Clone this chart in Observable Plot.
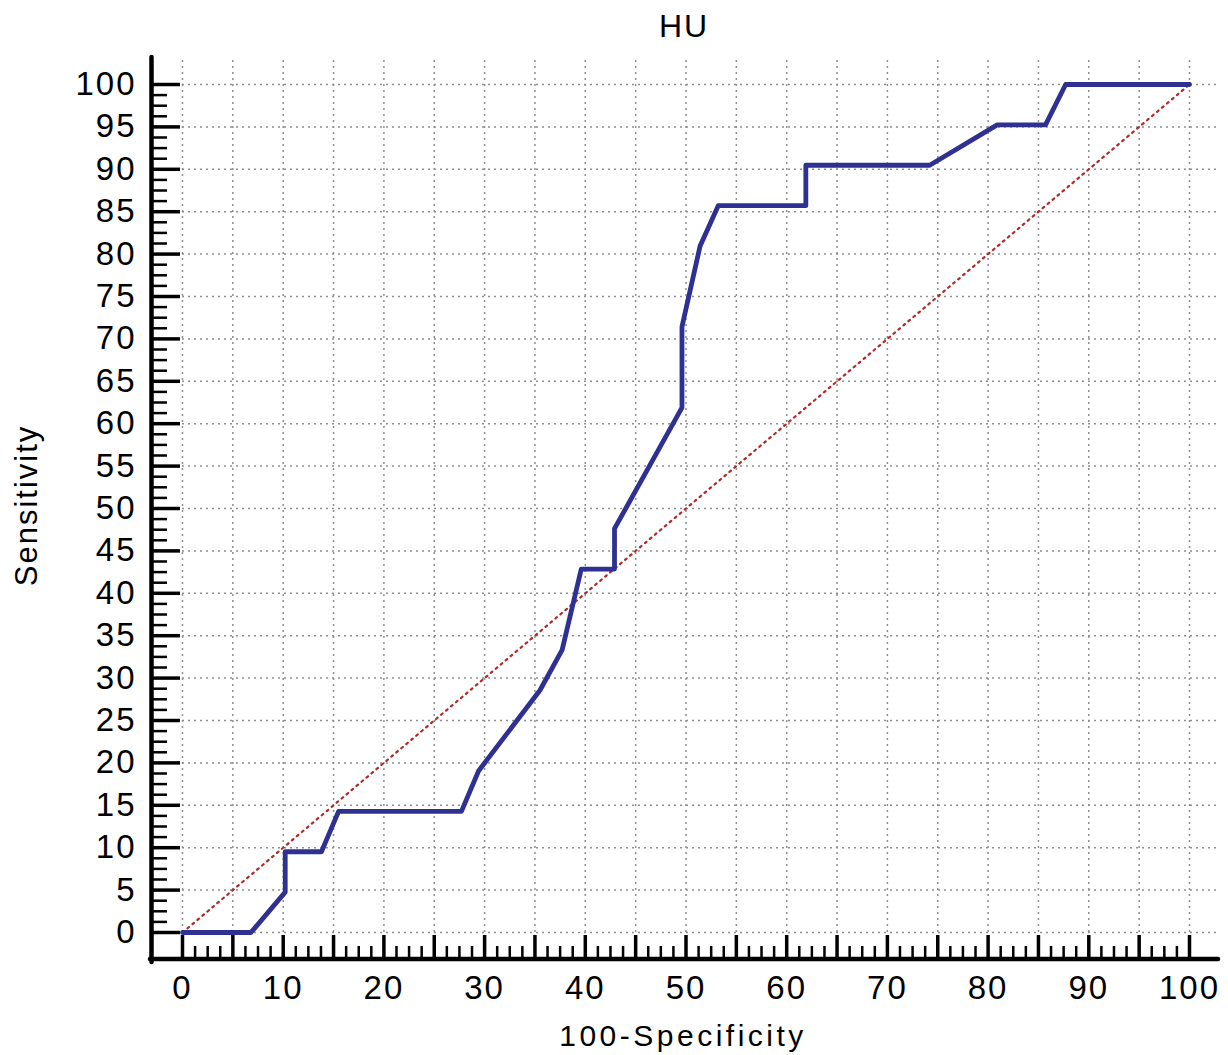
<!DOCTYPE html>
<html>
<head>
<meta charset="utf-8">
<script src="https://cdn.jsdelivr.net/npm/d3@7"></script>
<script src="https://cdn.jsdelivr.net/npm/@observablehq/plot@0.6"></script>
<style>
  html, body { margin: 0; padding: 0; background: #fff; }
  #chart svg text { letter-spacing: 2px; }
</style>
</head>
<body>
<div id="chart"></div>
<script>
// ROC curve (100-Specificity vs Sensitivity)
const fpr = [0, 6.8, 10.2, 10.2, 13.8, 15.5, 27.7, 29.4, 35.5, 37.7, 39.6, 42.9, 42.9, 49.6, 49.6, 51.4, 53.2, 61.9, 61.9, 74.2, 80.9, 85.7, 87.7, 100];
const tpr = [0, 0, 4.76, 9.52, 9.52, 14.29, 14.29, 19.05, 28.57, 33.33, 42.86, 42.86, 47.62, 61.9, 71.43, 80.95, 85.71, 85.71, 90.48, 90.48, 95.24, 95.24, 100, 100];
// reference diagonal
const diagX = [0, 100];
const diagY = [0, 100];
// ticks
const xMajorTicks = d3.range(0, 101, 5);
const xMinorTicks = d3.range(0, 100.01, 1.25).filter(v => v % 5 !== 0);
const xLabelTicks = d3.range(0, 101, 10);
const yMajorTicks = d3.range(0, 101, 5);
const yMinorTicks = d3.range(0, 100.01, 1.25).filter(v => v % 5 !== 0);
const yLabelTicks = d3.range(0, 101, 5);
const axisOrigin = [0];
const titleText = "HU";
const xLabel = "100-Specificity";
const yLabel = "Sensitivity";

const roc = fpr.map((x, i) => ({x, y: tpr[i]}));
const diag = diagX.map((x, i) => ({x, y: diagY[i]}));

const font = "Liberation Sans, Arial, sans-serif";
const gridStyle = {stroke: "#8f8f8f", strokeWidth: 1.5, strokeDasharray: "2,4"};

const chart = Plot.plot({
  width: 1228,
  height: 1055,
  marginLeft: 182,
  marginRight: 39,
  marginTop: 84,
  marginBottom: 123,
  x: {domain: [0, 100]},
  y: {domain: [0, 100]},
  style: {background: "white", color: "black", fontFamily: font, overflow: "visible"},
  marks: [
    // grid
    Plot.ruleX(xMajorTicks, {...gridStyle, insetTop: -24}),
    Plot.ruleY(yMajorTicks, {...gridStyle, insetRight: -28}),
    // diagonal
    Plot.line(diag, {x: "x", y: "y", stroke: "#b02a2a", strokeWidth: 2.2, strokeDasharray: "2,4.5"}),
    // ROC curve
    Plot.line(roc, {x: "x", y: "y", stroke: "#2e3192", strokeWidth: 4.8, strokeLinejoin: "round"}),
    // axis lines
    Plot.ruleX(axisOrigin, {stroke: "black", strokeWidth: 4.5, dx: -31, insetTop: -27, insetBottom: -30, strokeLinecap: "round"}),
    Plot.ruleY(axisOrigin, {stroke: "black", strokeWidth: 4.5, dy: 26.5, insetLeft: -32, insetRight: -29, strokeLinecap: "round"}),
    // y ticks
    Plot.axisY({ticks: yMajorTicks, anchor: "left", tickSize: 29, dx: -2, fill: "none", stroke: "black", strokeWidth: 3.5, label: null}),
    Plot.axisY({ticks: yMinorTicks, anchor: "left", tickSize: 15, dx: -15, fill: "none", stroke: "black", strokeWidth: 2.5, label: null}),
    Plot.axisY({ticks: yLabelTicks, anchor: "left", tickSize: 0, tickPadding: 46, stroke: "none", fill: "black", fontSize: 33, fontFamily: font, label: null}),
    // x ticks
    Plot.axisX({ticks: xMajorTicks, anchor: "bottom", tickSize: 24, dy: 3, fill: "none", stroke: "black", strokeWidth: 3.5, label: null}),
    Plot.axisX({ticks: xMinorTicks, anchor: "bottom", tickSize: 13, dy: 14, fill: "none", stroke: "black", strokeWidth: 2.5, label: null}),
    Plot.axisX({ticks: xLabelTicks, anchor: "bottom", tickSize: 0, tickPadding: 43, stroke: "none", fill: "black", fontSize: 33, fontFamily: font, label: null}),
    // titles
    Plot.text([titleText], {frameAnchor: "top", lineAnchor: "bottom", dy: -48, dx: -2, fontSize: 32, fontFamily: font, fill: "black"}),
    Plot.text([xLabel], {frameAnchor: "bottom", lineAnchor: "bottom", dy: 113, dx: -3, fontSize: 30, fontFamily: font, fill: "black"}),
    Plot.text([yLabel], {frameAnchor: "left", textAnchor: "middle", lineAnchor: "bottom", rotate: -90, dx: -146, dy: -3, fontSize: 31, fontFamily: font, fill: "black"})
  ]
});
d3.select(chart).selectAll("text").filter(function() { return this.textContent === xLabel; }).style("letter-spacing", "3.5px");
document.getElementById("chart").appendChild(chart);
</script>
</body>
</html>
